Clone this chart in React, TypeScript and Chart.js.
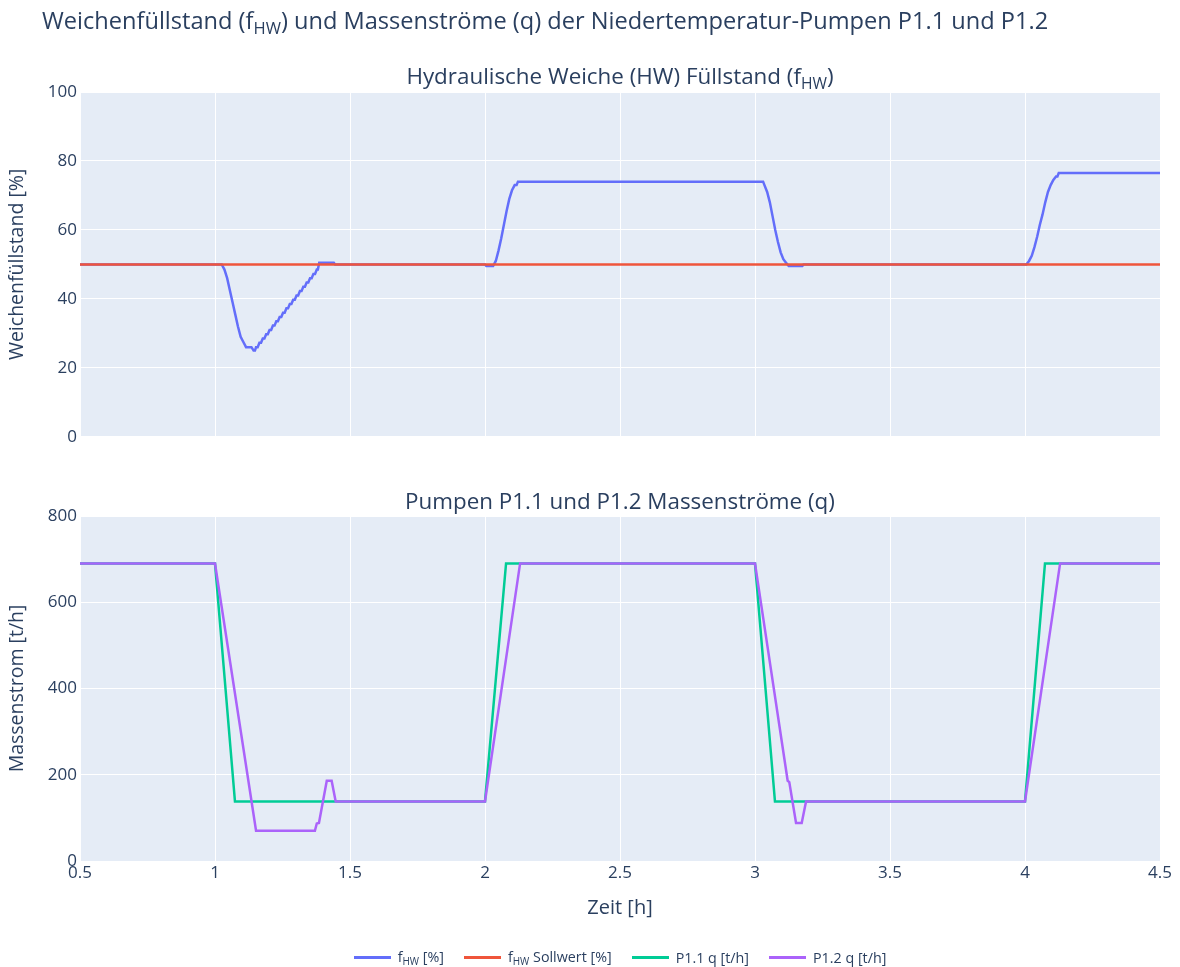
import React, { useEffect, useRef } from 'react';
import { Chart, registerables } from 'chart.js';

Chart.register(...registerables);

// ---------- Data ----------
const xTicks = [0.5, 1, 1.5, 2, 2.5, 3, 3.5, 4, 4.5];

const fhwTime = [
  0.5, 1.025, 1.035, 1.045, 1.055, 1.065, 1.075, 1.085, 1.095, 1.105, 1.115, 1.125, 1.135, 1.143, 1.148,
  1.152, 1.158, 1.1645, 1.1705, 1.177, 1.183, 1.1895, 1.1955, 1.202, 1.208, 1.2145, 1.2205, 1.227, 1.233,
  1.2395, 1.2455, 1.252, 1.258, 1.2645, 1.2705, 1.277, 1.283, 1.2895, 1.2955, 1.302, 1.308, 1.3145, 1.3205,
  1.327, 1.333, 1.3395, 1.3455, 1.352, 1.358, 1.3645, 1.3705, 1.377, 1.381, 1.386, 1.44, 1.445,
  2.0, 2.005, 2.03, 2.04, 2.05, 2.06, 2.07, 2.08, 2.09, 2.1, 2.11, 2.117, 2.122,
  3.03, 3.035, 3.045, 3.055, 3.065, 3.075, 3.085, 3.095, 3.105, 3.115, 3.125, 3.175, 3.18,
  4.005, 4.015, 4.025, 4.035, 4.045, 4.055, 4.065, 4.075, 4.085, 4.095, 4.105, 4.115, 4.12, 4.125, 4.5,
];
const fhwValue = [
  50, 50, 48.5, 46, 42.5, 39, 35.5, 32, 29, 27.5, 26, 26, 26, 25, 25,
  26, 26, 27.25, 27.25, 28.5, 28.5, 29.75, 29.75, 31, 31, 32.25, 32.25, 33.5, 33.5,
  34.75, 34.75, 36, 36, 37.25, 37.25, 38.5, 38.5, 39.75, 39.75, 41, 41, 42.25, 42.25,
  43.5, 43.5, 44.75, 44.75, 46, 46, 47.25, 47.25, 48.5, 48.5, 50.5, 50.5, 50,
  50, 49.5, 49.5, 51, 54, 57.5, 61.5, 65.5, 69, 71.5, 73, 73, 74,
  74, 73, 71, 68, 64, 60, 56.5, 53.5, 51.5, 50.5, 49.5, 49.5, 50,
  50, 51, 52.5, 55, 58, 61.5, 64.5, 68, 71, 73, 74.5, 75.5, 75.5, 76.5, 76.5,
];

const sollTime = [0.5, 4.5];
const sollValue = [50, 50];

const p11Time = [0.5, 1.0, 1.074, 2.0, 2.078, 3.0, 3.074, 4.0, 4.074, 4.5];
const p11Value = [690, 690, 138, 138, 690, 690, 138, 138, 690, 690];

const p12Time = [0.5, 1.0, 1.152, 1.37, 1.377, 1.385, 1.414, 1.432, 1.447, 2.0, 2.13, 3.0, 3.121, 3.127, 3.152, 3.173, 3.189, 4.0, 4.13, 4.5];
const p12Value = [690, 690, 70, 70, 87, 88, 186, 186, 138, 138, 690, 690, 186, 183, 88, 88, 138, 138, 690, 690];

// ---------- Styling ----------
const FONT = '"Open Sans", verdana, arial, sans-serif';
const TEXT = '#2a3f5f';
const PLOT_BG = '#E5ECF6';
const C_FHW = '#636efa';
const C_SOLL = '#EF553B';
const C_P11 = '#00cc96';
const C_P12 = '#ab63fa';

const toPts = (xs: number[], ys: number[]) => xs.map((x, i) => ({ x, y: ys[i] }));

const bgPlugin = {
  id: 'plotBg',
  beforeDraw(chart: any) {
    const { ctx, chartArea: a } = chart;
    ctx.save();
    ctx.fillStyle = PLOT_BG;
    ctx.fillRect(a.left, a.top, a.right - a.left, a.bottom - a.top);
    ctx.restore();
  },
};

function xScale(showLabels: boolean, height: number) {
  return {
    type: 'linear',
    min: 0.5,
    max: 4.5,
    afterBuildTicks: (s: any) => {
      s.ticks = xTicks.map((v) => ({ value: v }));
    },
    ticks: {
      display: showLabels,
      autoSkip: false,
      maxRotation: 0,
      padding: 2,
      color: TEXT,
      font: { family: FONT, size: 17 },
      callback: (v: any) => String(v),
    },
    grid: { color: '#ffffff', lineWidth: 1, drawTicks: false },
    border: { display: false },
    title: {
      display: showLabels,
      text: 'Zeit [h]',
      color: TEXT,
      font: { family: FONT, size: 20 },
      padding: { top: 0, bottom: 0 },
    },
    afterFit: (s: any) => {
      s.height = height;
    },
  };
}

function yScale(max: number, step: number, title: string) {
  return {
    type: 'linear',
    min: 0,
    max,
    ticks: {
      stepSize: step,
      padding: 3,
      color: TEXT,
      font: { family: FONT, size: 17 },
    },
    grid: { color: '#ffffff', lineWidth: 1, drawTicks: false },
    border: { display: false },
    title: {
      display: true,
      text: title,
      color: TEXT,
      font: { family: FONT, size: 19.5 },
      padding: { top: 6, bottom: 0 },
    },
    afterFit: (s: any) => {
      s.width = 80;
    },
  };
}

function Sub({ children }: { children: React.ReactNode }) {
  return (
    <span style={{ fontSize: '0.7em', position: 'relative', top: '0.3em' }}>{children}</span>
  );
}

function LegendItem({ color, children }: { color: string; children: React.ReactNode }) {
  return (
    <div style={{ display: 'flex', alignItems: 'center' }}>
      <div style={{ width: 37, height: 2.5, background: color, marginRight: 7 }} />
      <span>{children}</span>
    </div>
  );
}

export default function App() {
  const topRef = useRef<HTMLCanvasElement | null>(null);
  const botRef = useRef<HTMLCanvasElement | null>(null);

  useEffect(() => {
    document.body.style.margin = '0';
    const top = new Chart(topRef.current as HTMLCanvasElement, {
      type: 'line',
      data: {
        datasets: [
          {
            label: 'fHW Sollwert [%]',
            data: toPts(sollTime, sollValue),
            borderColor: C_SOLL,
            borderWidth: 2.5,
            pointRadius: 0,
          },
          {
            label: 'fHW [%]',
            data: toPts(fhwTime, fhwValue),
            borderColor: C_FHW,
            borderWidth: 2.5,
            pointRadius: 0,
          },
        ],
      },
      options: {
        responsive: false,
        animation: false,
        layout: { padding: { left: 0, right: 20, top: 92, bottom: 13 } },
        plugins: { legend: { display: false }, tooltip: { enabled: false } },
        scales: {
          x: xScale(false, 0) as any,
          y: yScale(100, 20, 'Weichenfüllstand [%]') as any,
        },
      },
      plugins: [bgPlugin],
    });

    const bot = new Chart(botRef.current as HTMLCanvasElement, {
      type: 'line',
      data: {
        datasets: [
          {
            label: 'P1.2 q [t/h]',
            data: toPts(p12Time, p12Value),
            borderColor: C_P12,
            borderWidth: 2.5,
            pointRadius: 0,
          },
          {
            label: 'P1.1 q [t/h]',
            data: toPts(p11Time, p11Value),
            borderColor: C_P11,
            borderWidth: 2.5,
            pointRadius: 0,
          },
        ],
      },
      options: {
        responsive: false,
        animation: false,
        layout: { padding: { left: 0, right: 20, top: 66, bottom: 47 } },
        plugins: { legend: { display: false }, tooltip: { enabled: false } },
        scales: {
          x: xScale(true, 59) as any,
          y: yScale(800, 200, 'Massenstrom [t/h]') as any,
        },
      },
      plugins: [bgPlugin],
    });

    return () => {
      top.destroy();
      bot.destroy();
    };
  }, []);

  return (
    <div
      style={{
        position: 'relative',
        width: 1180,
        height: 967,
        background: '#ffffff',
        fontFamily: FONT,
        color: TEXT,
        overflow: 'hidden',
      }}
    >
      <canvas ref={topRef} width={1180} height={450} style={{ position: 'absolute', left: 0, top: 0 }} />
      <canvas ref={botRef} width={1180} height={517} style={{ position: 'absolute', left: 0, top: 450 }} />

      <div style={{ position: 'absolute', left: 42, top: 5, fontSize: 23.6, lineHeight: '30px', whiteSpace: 'nowrap' }}>
        Weichenfüllstand (f<Sub>HW</Sub>) und Massenströme (q) der Niedertemperatur-Pumpen P1.1 und P1.2
      </div>

      <div
        style={{
          position: 'absolute',
          left: 0,
          width: 1240,
          top: 62,
          textAlign: 'center',
          fontSize: 22.4,
          lineHeight: '28px',
          whiteSpace: 'nowrap',
        }}
      >
        Hydraulische Weiche (HW) Füllstand (f<Sub>HW</Sub>)
      </div>

      <div
        style={{
          position: 'absolute',
          left: 0,
          width: 1240,
          top: 487,
          textAlign: 'center',
          fontSize: 22.4,
          lineHeight: '28px',
          whiteSpace: 'nowrap',
        }}
      >
        Pumpen P1.1 und P1.2 Massenströme (q)
      </div>

      <div
        style={{
          position: 'absolute',
          left: 0,
          width: 1240,
          top: 947,
          display: 'flex',
          justifyContent: 'center',
          gap: 20,
          fontSize: 14.3,
          lineHeight: '20px',
          whiteSpace: 'nowrap',
        }}
      >
        <LegendItem color={C_FHW}>
          f<Sub>HW</Sub> [%]
        </LegendItem>
        <LegendItem color={C_SOLL}>
          f<Sub>HW</Sub> Sollwert [%]
        </LegendItem>
        <LegendItem color={C_P11}>P1.1 q [t/h]</LegendItem>
        <LegendItem color={C_P12}>P1.2 q [t/h]</LegendItem>
      </div>
    </div>
  );
}
